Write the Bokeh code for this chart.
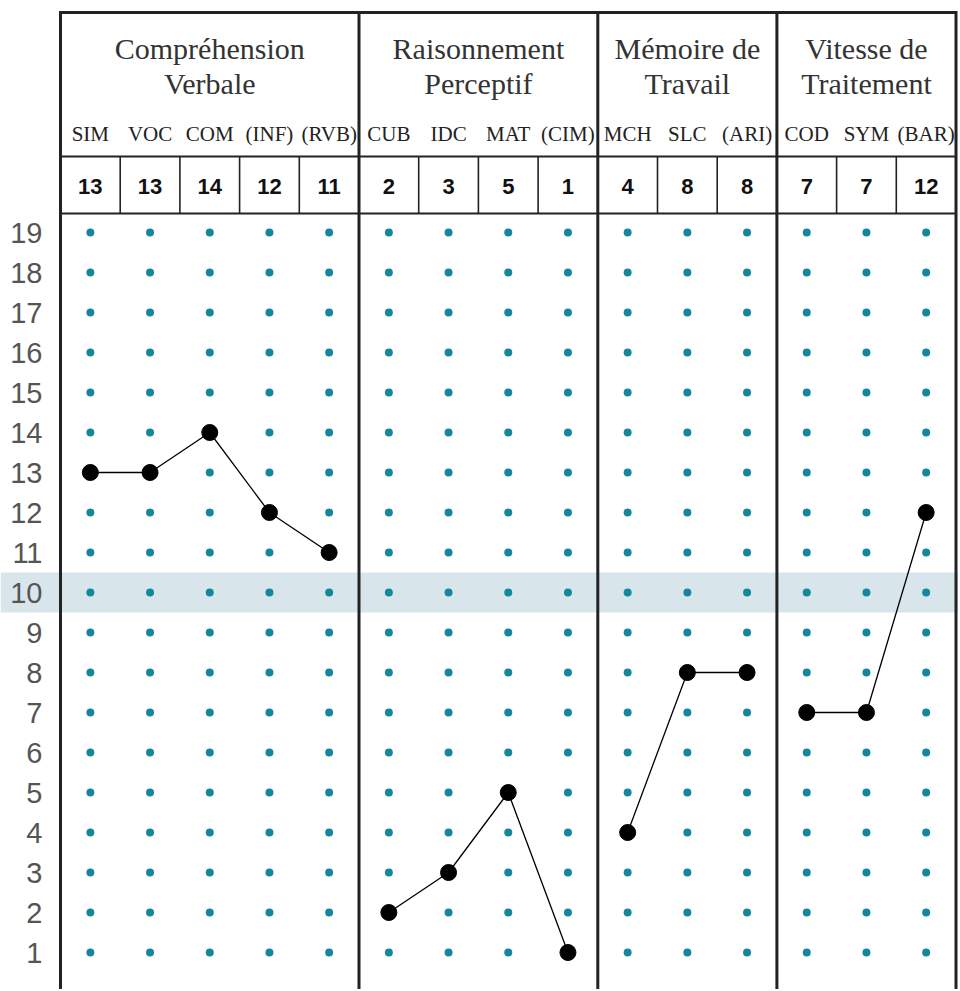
from bokeh.plotting import figure
from bokeh.models import Range1d
from bokeh.core.properties import value
from bokeh.embed import file_html
from bokeh.resources import INLINE

# ---------------- data ----------------
group_names = ["Compréhension\nVerbale", "Raisonnement\nPerceptif", "Mémoire de\nTravail", "Vitesse de\nTraitement"]
group_sizes = [5, 4, 3, 3]
subtests = ["SIM", "VOC", "COM", "(INF)", "(RVB)",
            "CUB", "IDC", "MAT", "(CIM)",
            "MCH", "SLC", "(ARI)",
            "COD", "SYM", "(BAR)"]
scores = [13, 13, 14, 12, 11, 2, 3, 5, 1, 4, 8, 8, 7, 7, 12]
scale_values = list(range(1, 20))
mean_band = (9.5, 10.5)

# ---------------- geometry ----------------
W, H = 958, 989
col_px = 59.7          # pixel width of one column
left_px = 60           # pixels left of first column (tick label area)
row_px = 40            # pixels per scale point
y_top_val = 19 + 232 / row_px
y_bot_val = y_top_val - H / row_px

n = len(subtests)
x_start = -left_px / col_px
x_end = x_start + W / col_px

p = figure(width=W, height=H, output_backend="svg", toolbar_location=None,
           x_range=Range1d(x_start, x_end), y_range=Range1d(y_bot_val, y_top_val),
           min_border=0, min_border_left=0, min_border_right=0,
           min_border_top=0, min_border_bottom=0)
p.axis.visible = False
p.grid.visible = False
p.outline_line_color = None
p.background_fill_color = "white"
p.border_fill_color = "white"

# mean band (whole width)
p.quad(left=[x_start], right=[x_end], bottom=[mean_band[0]], top=[mean_band[1]],
       fill_color="#d8e6ec", line_color=None)

# boundaries of groups
bounds = [0]
for g in group_sizes:
    bounds.append(bounds[-1] + g)

top_line = 19 + (232 - 12) / row_px
score_top = 19 + (232 - 156) / row_px
score_bot = 19 + (232 - 213) / row_px

# teal grid dots
dx, dy = [], []
for i in range(n):
    for v in scale_values:
        dx.append(i + 0.5)
        dy.append(v)
p.scatter(dx, dy, size=8, fill_color="#14879e", line_color=None)

# thin separators in score row
thin = [i for i in range(1, n) if i not in bounds]
p.segment(x0=thin, x1=thin, y0=[score_bot] * len(thin), y1=[score_top] * len(thin),
          line_color="#222222", line_width=1.6)

# horizontal lines
p.segment(x0=[0, 0, 0], x1=[n, n, n], y0=[top_line, score_top, score_bot],
          y1=[top_line, score_top, score_bot], line_color="#222222",
          line_width=[3, 2, 2])

# thick group dividers
p.segment(x0=bounds, x1=bounds, y0=[top_line + 0.035] * len(bounds),
          y1=[y_bot_val - 1] * len(bounds), line_color="#222222", line_width=3)

# profile lines and points per group
xs, ys = [], []
for gi in range(len(group_sizes)):
    a, b = bounds[gi], bounds[gi + 1]
    xs.append([i + 0.5 for i in range(a, b)])
    ys.append(scores[a:b])
p.multi_line(xs, ys, line_color="black", line_width=1.3)
p.scatter([i + 0.5 for i in range(n)], scores, size=16,
          fill_color="black", line_color="black")

# scale tick labels
p.text(x=[-18 / col_px] * len(scale_values), y=scale_values, text=[str(v) for v in scale_values],
       text_align="right", text_baseline="middle", text_font=value("Liberation Sans"),
       text_font_size="29px", text_color="#555555")

# group names (two lines)
gx = [(bounds[g] + bounds[g + 1]) / 2 for g in range(len(group_sizes))]
l1 = [nm.split("\n")[0] for nm in group_names]
l2 = [nm.split("\n")[1] for nm in group_names]
p.text(x=gx, y=[19 + (232 - 48) / row_px] * len(gx), text=l1, text_align="center",
       text_baseline="middle", text_font=value("Liberation Serif"), text_font_size="30px",
       text_color="#333333")
p.text(x=gx, y=[19 + (232 - 83) / row_px] * len(gx), text=l2, text_align="center",
       text_baseline="middle", text_font=value("Liberation Serif"), text_font_size="30px",
       text_color="#333333")

# subtest labels
p.text(x=[i + 0.5 for i in range(n)], y=[19 + (232 - 133) / row_px] * n, text=subtests,
       text_align="center", text_baseline="middle", text_font=value("Liberation Serif"),
       text_font_size="21px", text_color="#222222")

# score values
p.text(x=[i + 0.5 for i in range(n)], y=[19 + (232 - 186) / row_px] * n,
       text=[str(s) for s in scores],
       text_align="center", text_baseline="middle", text_font=value("Liberation Sans"),
       text_font_style="bold", text_font_size="22px", text_color="#111111")

open("out.html", "w").write(file_html(p, INLINE))
